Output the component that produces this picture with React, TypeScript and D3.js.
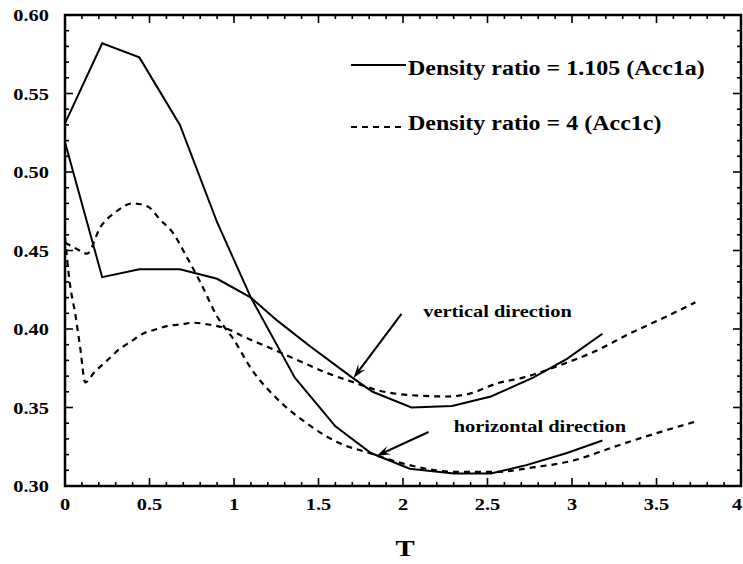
import React from "react";
import * as d3 from "d3";

// ---- data ----
const solidH_T = [0, 0.22, 0.44, 0.68, 0.9, 1.1, 1.36, 1.6, 1.81, 2.04, 2.3, 2.52, 2.72, 2.97, 3.18];
const solidH_V = [0.531, 0.582, 0.573, 0.53, 0.468, 0.42, 0.369, 0.338, 0.321, 0.311, 0.308, 0.308, 0.313, 0.321, 0.329];

const solidV_T = [0, 0.22, 0.44, 0.68, 0.9, 1.1, 1.26, 1.45, 1.7, 1.82, 2.05, 2.29, 2.52, 2.77, 2.97, 3.18];
const solidV_V = [0.519, 0.433, 0.438, 0.438, 0.432, 0.42, 0.405, 0.389, 0.369, 0.36, 0.35, 0.351, 0.357, 0.369, 0.381, 0.397];

const dashH_T = [0, 0.07, 0.13, 0.21, 0.3, 0.4, 0.49, 0.56, 0.64, 0.72, 0.8, 0.9, 1.0, 1.1, 1.26, 1.43, 1.61, 1.8, 2.05, 2.3, 2.55, 2.78, 3.0, 3.25, 3.48, 3.73];
const dashH_V = [0.455, 0.451, 0.448, 0.465, 0.4745, 0.48, 0.478, 0.47, 0.461, 0.446, 0.43, 0.408, 0.393, 0.375, 0.355, 0.34, 0.328, 0.321, 0.313, 0.309, 0.309, 0.312, 0.316, 0.325, 0.333, 0.341];

const dashV_T = [0, 0.03, 0.06, 0.09, 0.12, 0.17, 0.25, 0.32, 0.39, 0.46, 0.53, 0.61, 0.69, 0.76, 0.84, 0.95, 1.06, 1.2, 1.38, 1.55, 1.71, 1.85, 2.03, 2.26, 2.4, 2.56, 2.71, 2.93, 3.13, 3.35, 3.54, 3.73];
const dashV_V = [0.458, 0.428, 0.41, 0.388, 0.366, 0.372, 0.38, 0.387, 0.392, 0.397, 0.3995, 0.402, 0.403, 0.404, 0.403, 0.4005, 0.395, 0.3885, 0.38, 0.372, 0.366, 0.361, 0.358, 0.357, 0.359, 0.3655, 0.369, 0.377, 0.3855, 0.3975, 0.407, 0.417];

const xTickLabels = ["0", "0.5", "1", "1.5", "2", "2.5", "3", "3.5", "4"];
const xTickValues = [0, 0.5, 1, 1.5, 2, 2.5, 3, 3.5, 4];
const yTickLabels = ["0.30", "0.35", "0.40", "0.45", "0.50", "0.55", "0.60"];
const yTickValues = [0.3, 0.35, 0.4, 0.45, 0.5, 0.55, 0.6];

const legendLabels = ["Density ratio = 1.105 (Acc1a)", "Density ratio = 4 (Acc1c)"];

const annoTexts = ["vertical direction", "horizontal direction"];
const annoTextT = [2.12, 2.3];
const annoTextV = [0.4076, 0.3344];
const arrowTailT = [1.991, 2.151];
const arrowTailV = [0.4096, 0.3344];
const arrowTipT = [1.707, 1.843];
const arrowTipV = [0.3688, 0.3191];

const W = 743;
const H = 564;
const FONT = "'Liberation Serif', 'Times New Roman', serif";

const x = d3.scaleLinear().domain([0, 4]).range([65, 741]);
const y = d3.scaleLinear().domain([0.3, 0.6]).range([486, 15]);

function zip(ts: number[], vs: number[]): [number, number][] {
  return ts.map((t, i) => [t, vs[i]]);
}

const lineLinear = d3
  .line<[number, number]>()
  .x((d) => x(d[0]))
  .y((d) => y(d[1]));
const lineSmooth = d3
  .line<[number, number]>()
  .x((d) => x(d[0]))
  .y((d) => y(d[1]))
  .curve(d3.curveMonotoneX);

function SText(props: {
  x: number;
  y: number;
  size: number;
  anchor?: string;
  children: React.ReactNode;
}) {
  return (
    <g transform={`translate(${props.x},${props.y}) scale(1.2,1)`}>
      <text
        x={0}
        y={0}
        fontFamily={FONT}
        fontWeight="bold"
        fontSize={props.size}
        textAnchor={props.anchor || "start"}
        fill="#000"
      >
        {props.children}
      </text>
    </g>
  );
}

function Arrow(props: { x1: number; y1: number; x2: number; y2: number }) {
  const { x1, y1, x2, y2 } = props;
  const ang = Math.atan2(y2 - y1, x2 - x1);
  const len = 14;
  const half = 4.5;
  const bx = x2 - len * Math.cos(ang);
  const by = y2 - len * Math.sin(ang);
  const nx = -Math.sin(ang);
  const ny = Math.cos(ang);
  const nb = 0.6;
  const p = [
    [x2, y2],
    [bx + nx * half, by + ny * half],
    [x2 - len * nb * Math.cos(ang), y2 - len * nb * Math.sin(ang)],
    [bx - nx * half, by - ny * half],
  ];
  return (
    <g>
      <line x1={x1} y1={y1} x2={x2 - 6 * Math.cos(ang)} y2={y2 - 6 * Math.sin(ang)} stroke="#000" strokeWidth={2} />
      <path d={`M${p.map((q) => q.join(",")).join("L")}Z`} fill="#000" />
    </g>
  );
}

export default function App() {
  const xMinor = d3.range(0, 41).map((i) => i / 10);
  const yMinor = d3.range(30, 61).map((i) => i / 100);
  const x0 = x(0);
  const x1 = x(4);
  const y0 = y(0.3);
  const y1 = y(0.6);

  return (
    <svg
      width={W}
      height={H}
      style={{ position: "absolute", left: 0, top: 0, background: "#fff" }}
    >
      <rect x={0} y={0} width={W} height={H} fill="#fff" />
      {/* curves */}
      <path d={lineLinear(zip(solidH_T, solidH_V)) || ""} fill="none" stroke="#000" strokeWidth={2} />
      <path d={lineLinear(zip(solidV_T, solidV_V)) || ""} fill="none" stroke="#000" strokeWidth={2} />
      <path d={lineSmooth(zip(dashH_T, dashH_V)) || ""} fill="none" stroke="#000" strokeWidth={2.2} strokeDasharray="6,5" />
      <path d={lineSmooth(zip(dashV_T, dashV_V)) || ""} fill="none" stroke="#000" strokeWidth={2.2} strokeDasharray="6,5" />

      {/* frame */}
      <rect x={x0} y={y1} width={x1 - x0} height={y0 - y1} fill="none" stroke="#000" strokeWidth={2.5} />

      {/* x ticks */}
      {xMinor.map((t, i) => {
        const major = i % 5 === 0;
        const L = major ? 8 : 4;
        return (
          <g key={"xt" + i}>
            <line x1={x(t)} x2={x(t)} y1={y0} y2={y0 - L} stroke="#000" strokeWidth={1.6} />
            <line x1={x(t)} x2={x(t)} y1={y1} y2={y1 + L} stroke="#000" strokeWidth={1.6} />
          </g>
        );
      })}
      {/* y ticks */}
      {yMinor.map((v, i) => {
        const major = i % 5 === 0;
        const L = major ? 8 : 4;
        return (
          <g key={"yt" + i}>
            <line x1={x0} x2={x0 + L} y1={y(v)} y2={y(v)} stroke="#000" strokeWidth={1.6} />
            <line x1={x1} x2={x1 - L} y1={y(v)} y2={y(v)} stroke="#000" strokeWidth={1.6} />
          </g>
        );
      })}

      {/* tick labels */}
      {xTickValues.map((t, i) => (
        <SText key={"xl" + i} x={Math.min(x(t), 737)} y={510} size={17} anchor="middle">
          {xTickLabels[i]}
        </SText>
      ))}
      {yTickValues.map((v, i) => (
        <SText key={"yl" + i} x={49} y={y(v) + 6} size={17} anchor="end">
          {yTickLabels[i]}
        </SText>
      ))}

      {/* axis title */}
      <SText x={405} y={556} size={24} anchor="middle">
        T
      </SText>

      {/* legend */}
      <line x1={351} x2={406} y1={65} y2={65} stroke="#000" strokeWidth={2} />
      <SText x={408} y={75} size={20}>
        {legendLabels[0]}
      </SText>
      <line x1={351} x2={405} y1={127} y2={127} stroke="#000" strokeWidth={2.2} strokeDasharray="6,5" />
      <SText x={408} y={130} size={20}>
        {legendLabels[1]}
      </SText>

      {/* annotations */}
      {annoTexts.map((s, i) => (
        <g key={"an" + i}>
          <Arrow
            x1={x(arrowTailT[i])}
            y1={y(arrowTailV[i])}
            x2={x(arrowTipT[i])}
            y2={y(arrowTipV[i])}
          />
          <SText x={x(annoTextT[i])} y={y(annoTextV[i])} size={17}>
            {s}
          </SText>
        </g>
      ))}
    </svg>
  );
}
